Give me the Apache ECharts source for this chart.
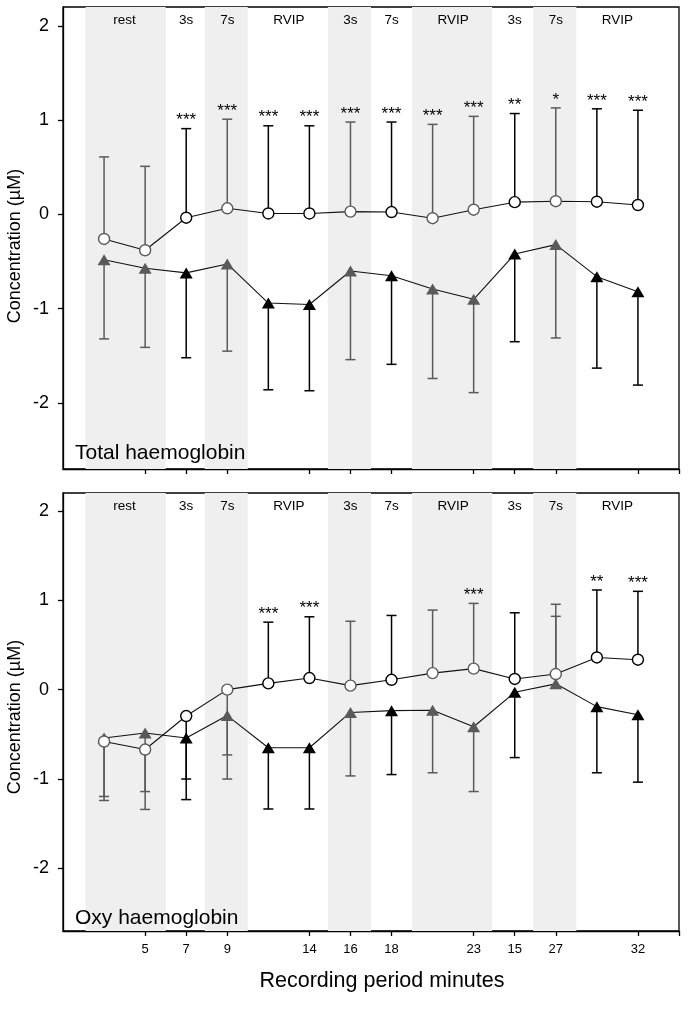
<!DOCTYPE html>
<html>
<head>
<meta charset="utf-8">
<script src="https://cdn.jsdelivr.net/npm/echarts@6/dist/echarts.min.js"></script>
<style>
  html, body { margin: 0; padding: 0; background: #fff; }
  #main { width: 692px; height: 1031px; }
</style>
</head>
<body>
<div id="main"></div>
<script>
// recording periods (x index 1..14)
var tickPos = [2, 3, 4, 6, 7, 8, 10, 11, 12, 14, 15];
var tickLabels = ['5', '7', '9', '14', '16', '18', '23', '15', '27', '32', ''];

// phases
var bands = [[0.55, 2.5], [3.45, 4.5], [6.45, 7.5], [8.5, 10.45], [11.45, 12.5]];
var phaseX = [1.5, 3, 4, 5.5, 7, 8, 9.5, 11, 12, 13.5];
var phaseNames = ['rest', '3s', '7s', 'RVIP', '3s', '7s', 'RVIP', '3s', '7s', 'RVIP'];

// Total haemoglobin
var totalCircle = [-0.26, -0.38, -0.035, 0.065, 0.01, 0.01, 0.03, 0.025, -0.04, 0.05, 0.13, 0.14, 0.135, 0.10];
var totalCircleErr = [0.61, 0.51, 0.91, 1.01, 0.94, 0.94, 0.98, 0.98, 0.955, 1.04, 1.07, 1.13, 1.12, 1.105];
var totalTri = [-0.48, -0.57, -0.62, -0.525, -0.94, -0.955, -0.60, -0.65, -0.79, -0.90, -0.42, -0.32, -0.66, -0.82];
var totalTriErr = [-1.32, -1.41, -1.52, -1.45, -1.86, -1.87, -1.54, -1.59, -1.74, -1.89, -1.35, -1.31, -1.63, -1.81];
var totalSig = ['', '', '***', '***', '***', '***', '***', '***', '***', '***', '**', '*', '***', '***'];

// Oxy haemoglobin
var oxyCircle = [-0.58, -0.67, -0.295, 0.0, 0.07, 0.13, 0.045, 0.11, 0.185, 0.235, 0.12, 0.175, 0.36, 0.335];
var oxyCircleErr = [-1.24, -1.34, -1.0, -0.73, 0.755, 0.815, 0.765, 0.83, 0.89, 0.965, 0.86, 0.955, 1.115, 1.10];
var oxyTri = [-0.54, -0.485, -0.54, -0.29, -0.65, -0.65, -0.255, -0.235, -0.23, -0.415, -0.03, 0.065, -0.19, -0.28];
var oxyTriErr = [-1.195, -1.14, -1.23, -1.0, -1.335, -1.335, -0.965, -0.95, -0.93, -1.14, -0.76, 0.82, -0.93, -1.035];
var oxySig = ['', '', '', '', '***', '***', '', '', '', '***', '', '', '**', '***'];

var FONT = 'Arial, "Liberation Sans", sans-serif';
var GRAY = '#5a5a5a';

function inBand(x) {
    for (var i = 0; i < bands.length; i++) {
        if (x > bands[i][0] && x < bands[i][1]) return true;
    }
    return false;
}

function errData(vals, ends) {
    return vals.map(function (v, i) { return [i + 1, v, ends[i]]; });
}

function errSeries(idx, vals, ends) {
    return {
        type: 'custom',
        xAxisIndex: idx, yAxisIndex: idx,
        data: errData(vals, ends),
        encode: { x: 0, y: [1, 2] },
        z: 2,
        silent: true,
        renderItem: function (params, api) {
            var x = api.value(0);
            var p0 = api.coord([x, api.value(1)]);
            var p1 = api.coord([x, api.value(2)]);
            var c = inBand(x) ? GRAY : '#000';
            var st = { stroke: c, lineWidth: 1.5 };
            return {
                type: 'group',
                children: [
                    { type: 'line', shape: { x1: p0[0], y1: p0[1], x2: p1[0], y2: p1[1] }, style: st },
                    { type: 'line', shape: { x1: p1[0] - 5, y1: p1[1], x2: p1[0] + 5, y2: p1[1] }, style: st }
                ]
            };
        }
    };
}

function sigSeries(idx, ends, sig) {
    return {
        type: 'custom',
        xAxisIndex: idx, yAxisIndex: idx,
        data: ends.map(function (v, i) { return [i + 1, v, sig[i]]; }),
        z: 5,
        silent: true,
        renderItem: function (params, api) {
            var p = api.coord([api.value(0), api.value(1)]);
            return {
                type: 'text',
                style: {
                    x: p[0], y: p[1] - 8,
                    text: sig[params.dataIndex],
                    fill: '#000',
                    fontSize: 17,
                    fontFamily: FONT,
                    align: 'center', verticalAlign: 'middle'
                }
            };
        }
    };
}

function markerSeries(idx, vals, shape) {
    return {
        type: 'line',
        xAxisIndex: idx, yAxisIndex: idx,
        data: vals.map(function (v, i) {
            var g = inBand(i + 1);
            var style = shape === 'circle'
                ? { color: '#fff', borderColor: g ? GRAY : '#000', borderWidth: 1.4 }
                : { color: g ? GRAY : '#000', borderColor: g ? GRAY : '#000', borderWidth: 0 };
            return { value: [i + 1, v], itemStyle: style };
        }),
        symbol: shape,
        symbolSize: shape === 'circle' ? 11 : [13, 11],
        showAllSymbol: true,
        lineStyle: { color: '#111', width: 1.1 },
        z: 3,
        silent: true,
        animation: false
    };
}

function bandSeries(idx) {
    return {
        type: 'line',
        xAxisIndex: idx, yAxisIndex: idx,
        data: [],
        silent: true,
        markArea: {
            silent: true,
            itemStyle: { color: '#efefef' },
            data: bands.map(function (b) { return [{ xAxis: b[0] }, { xAxis: b[1] }]; })
        }
    };
}

function phaseSeries(idx) {
    return {
        type: 'custom',
        xAxisIndex: idx, yAxisIndex: idx,
        data: phaseX.map(function (x, i) { return [x, phaseNames[i]]; }),
        z: 5,
        silent: true,
        renderItem: function (params, api) {
            var p = api.coord([api.value(0), 2.2]);
            return {
                type: 'text',
                style: {
                    x: p[0], y: p[1] + 13,
                    text: phaseNames[params.dataIndex],
                    fill: '#000',
                    fontSize: 13.5,
                    fontFamily: FONT,
                    align: 'center', verticalAlign: 'middle'
                }
            };
        }
    };
}

function xAxisOpt(idx, showLabels) {
    return {
        type: 'value', gridIndex: idx,
        min: 0, max: 15,
        axisLine: { show: true, onZero: false, lineStyle: { color: '#000', width: 1.3 } },
        axisTick: { show: true, length: 5, customValues: tickPos, lineStyle: { color: '#000', width: 1.3 } },
        axisLabel: {
            show: showLabels, customValues: tickPos,
            margin: 12, fontSize: 13, color: '#000', fontFamily: FONT,
            formatter: function (v) {
                var k = tickPos.indexOf(v);
                return k >= 0 ? tickLabels[k] : '';
            }
        },
        splitLine: { show: false },
        name: showLabels ? 'Recording period minutes' : '',
        nameLocation: 'middle',
        nameGap: 39,
        nameMoveOverlap: false,
        nameTextStyle: { fontSize: 21.5, color: '#000', fontFamily: FONT, padding: [0, 0, 0, 22] }
    };
}

function yAxisOpt(idx) {
    return {
        type: 'value', gridIndex: idx,
        min: -2.7, max: 2.2,
        axisLine: { show: true, lineStyle: { color: '#000', width: 1.3 } },
        axisTick: { show: true, length: 5, customValues: [-2, -1, 0, 1, 2], lineStyle: { color: '#000', width: 1.3 } },
        axisLabel: {
            customValues: [-2, -1, 0, 1, 2],
            margin: 14, fontSize: 18, color: '#000', fontFamily: FONT
        },
        splitLine: { show: false },
        name: 'Concentration (µM)',
        nameLocation: 'middle',
        nameGap: 39,
        nameMoveOverlap: false,
        nameTextStyle: { fontSize: 18, color: '#000', fontFamily: FONT, padding: [0, idx === 0 ? 16 : 10, 0, 0] }
    };
}

var myChart = echarts.init(document.getElementById('main'));

var option = {
    backgroundColor: '#fff',
    animation: false,
    title: [
        { text: 'Total haemoglobin', left: 70, top: 438, textStyle: { fontSize: 21, fontWeight: 'normal', color: '#000', fontFamily: FONT } },
        { text: 'Oxy haemoglobin', left: 70, top: 903, textStyle: { fontSize: 21, fontWeight: 'normal', color: '#000', fontFamily: FONT } }
    ],
    grid: [
        { left: 63, right: 13, top: 7, height: 462, outerBoundsMode: 'none', containLabel: false, show: true, borderColor: '#000', borderWidth: 1.3, backgroundColor: 'transparent' },
        { left: 63, right: 13, top: 493, height: 438, outerBoundsMode: 'none', containLabel: false, show: true, borderColor: '#000', borderWidth: 1.3, backgroundColor: 'transparent' }
    ],
    xAxis: [xAxisOpt(0, false), xAxisOpt(1, true)],
    yAxis: [yAxisOpt(0), yAxisOpt(1)],
    series: [
        bandSeries(0),
        bandSeries(1),
        phaseSeries(0),
        phaseSeries(1),
        errSeries(0, totalTri, totalTriErr),
        errSeries(0, totalCircle, totalCircleErr),
        errSeries(1, oxyTri, oxyTriErr),
        errSeries(1, oxyCircle, oxyCircleErr),
        markerSeries(0, totalTri, 'triangle'),
        markerSeries(0, totalCircle, 'circle'),
        markerSeries(1, oxyTri, 'triangle'),
        markerSeries(1, oxyCircle, 'circle'),
        sigSeries(0, totalCircleErr, totalSig),
        sigSeries(1, oxyCircleErr, oxySig)
    ]
};

myChart.setOption(option);
</script>
</body>
</html>
